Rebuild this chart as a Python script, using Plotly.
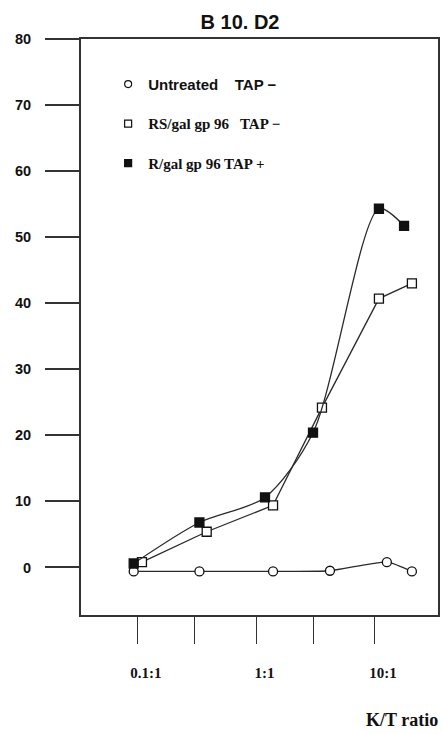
import plotly.graph_objects as go

# Data
untreated_x = [0.092, 0.33, 1.38, 4.17, 12.6, 20.5]
untreated_y = [-0.6, -0.6, -0.6, -0.5, 0.8, -0.6]

rs_x = [0.108, 0.38, 1.38, 3.57, 10.8, 20.5]
rs_y = [0.8, 5.4, 9.4, 24.2, 40.7, 43.0]

r_x = [0.092, 0.33, 1.18, 3.0, 10.8, 17.6]
r_y = [0.6, 6.8, 10.6, 20.4, 54.3, 51.7]

x_tickvals = [0.1, 0.3, 1, 3, 10]
x_ticktext = ["0.1:1", "", "1:1", "", "10:1"]
y_tickvals = [0, 10, 20, 30, 40, 50, 60, 70, 80]

names = [
    "Untreated\u00a0\u00a0\u00a0 TAP \u2212",
    "<span style='font-family:Liberation Serif;font-size:15px'>RS/gal gp 96\u00a0\u00a0 TAP \u2212</span>",
    "<span style='font-family:Liberation Serif;font-size:15px'>R/gal gp 96 TAP +</span>",
]

line_col = "#2a2a2a"
fig = go.Figure()

series = [
    (untreated_x, untreated_y, "circle", "white", "spline", 0.6),
    (rs_x, rs_y, "square", "white", "linear", 0),
    (r_x, r_y, "square", "#111", "spline", 0.8),
]
for i, (xs, ys, sym, fill, shape, sm) in enumerate(series):
    line = dict(color=line_col, width=1.3, shape=shape)
    if shape == "spline":
        line["smoothing"] = sm
    fig.add_trace(go.Scatter(
        x=xs, y=ys, mode="lines+markers", showlegend=False,
        line=line,
        marker=dict(symbol=sym, size=9, color=fill,
                    line=dict(color="#111", width=1.3)),
    ))
    fig.add_trace(go.Scatter(
        x=[None], y=[None], mode="markers", name=names[i], legendgroup=f"g{i}",
        marker=dict(symbol=sym, size=7, color=fill,
                    line=dict(color="#111", width=1.2)),
    ))

W, H = 443, 734
L, T = 81, 39
PW, PH = 357, 576

fig.update_layout(
    width=W, height=H,
    margin=dict(l=L, r=W - L - PW, t=T, b=H - T - PH, autoexpand=False),
    paper_bgcolor="white", plot_bgcolor="white",
    font=dict(family="Liberation Sans", color="#111"),
    title=dict(text="<b>B 10. D2</b>", x=240 / W, xanchor="center",
               y=1 - 22 / H, yanchor="middle", font=dict(size=20, family="Liberation Sans")),
    legend=dict(x=0.076, y=0.95, xanchor="left", yanchor="top",
                bgcolor="rgba(0,0,0,0)", tracegroupgap=17,
                font=dict(size=15, family="Liberation Sans", weight="bold"),
                itemwidth=30),
    xaxis=dict(type="log", range=[-1.481, 1.532], tickvals=x_tickvals, ticktext=x_ticktext,
               ticks="outside", ticklen=27, tickwidth=1.3, tickcolor="#333",
               showgrid=False, zeroline=False, showline=True, linecolor="#333", linewidth=1.8,
               mirror=True, ticklabelstandoff=16, ticklabelshift=8, automargin=False,
               tickfont=dict(family="Liberation Serif", size=15, weight="bold")),
    yaxis=dict(range=[-7.2, 80], tickvals=y_tickvals,
               ticks="outside", ticklen=34, tickwidth=1.8, tickcolor="#333",
               showgrid=False, zeroline=False, showline=True, linecolor="#333", linewidth=1.8,
               mirror=True, ticklabelstandoff=11, automargin=False,
               tickfont=dict(family="Liberation Sans", size=14.5, weight="bold")),
    annotations=[dict(text="<b>K/T ratio</b>", xref="paper", yref="paper",
                      x=(440 - L) / PW, y=-(720 - (T + PH)) / PH, xanchor="right", yanchor="middle",
                      showarrow=False, font=dict(family="Liberation Serif", size=18, color="#111"))],
)

fig.write_html(
    "out.html",
    config={"displayModeBar": False},
    post_script="document.body.style.margin='0';document.body.style.overflow='hidden';",
)
